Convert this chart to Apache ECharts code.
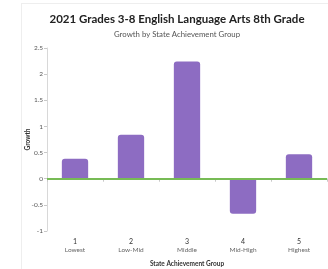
<!DOCTYPE html>
<html><head><meta charset="utf-8">
<script src="https://cdn.jsdelivr.net/npm/echarts@6/dist/echarts.min.js"></script>
<style>
html,body{margin:0;padding:0;background:#fff;}
#frame{position:absolute;left:21px;top:3px;width:320px;height:280px;border:1px solid #eeeeee;}
#c{position:absolute;left:0;top:0;width:328px;height:269px;}
</style></head>
<body>
<div id="frame"></div>
<div id="c"></div>
<script>
const groups = ['1','2','3','4','5'];
const groupNames = ['Lowest','Low-Mid','Middle','Mid-High','Highest'];
const growth = [0.38, 0.84, 2.24, -0.67, 0.47];
const yTicks = [-1, -0.5, 0, 0.5, 1, 1.5, 2, 2.5];

const chart = echarts.init(document.getElementById('c'), null, {renderer:'canvas'});
const font = 'Lato, "Open Sans", sans-serif';
chart.setOption({
  animation:false,
  title:[{
    text:'2021 Grades 3-8 English Language Arts 8th Grade',
    left:177, top:13, textAlign:'center', padding:0,
    textStyle:{fontFamily:font,fontSize:11.5,fontWeight:'bold',color:'#222'}
  },{
    text:'Growth by State Achievement Group',
    left:177, top:30, textAlign:'center', padding:0,
    textStyle:{fontFamily:font,fontSize:7.8,fontWeight:'normal',color:'#555'}
  }],
  grid:{left:47,right:1,top:48,bottom:38,outerBoundsMode:'none'},
  xAxis:{
    type:'category',
    data:groups.map((g,i)=>g+'\n'+groupNames[i]),
    name:'State Achievement Group',
    nameLocation:'middle', nameGap:29, nameMoveOverlap:false,
    nameTextStyle:{fontFamily:font,fontSize:6.5,fontWeight:'bold',color:'#333'},
    axisLine:{lineStyle:{color:'#d8d8d8',width:1}},
    axisTick:{show:true,length:3,lineStyle:{color:'#c8c8c8'}},
    axisLabel:{
      margin:6, interval:0,
      formatter:function(v){const p=v.split('\n');return '{a|'+p[0]+'}\n{b|'+p[1]+'}';},
      rich:{
        a:{fontFamily:font,fontSize:7,color:'#333',lineHeight:8.5},
        b:{fontFamily:font,fontSize:6.5,color:'#666',lineHeight:8.5}
      }
    }
  },
  yAxis:{
    type:'value', min:-1, max:2.5, interval:0.5,
    name:'Growth', nameLocation:'middle', nameGap:16, nameRotate:90, nameMoveOverlap:false,
    nameTextStyle:{fontFamily:font,fontSize:6.5,fontWeight:'bold',color:'#333'},
    axisLine:{show:true,lineStyle:{color:'#d8d8d8',width:1}},
    axisTick:{show:true,length:3,lineStyle:{color:'#c8c8c8'}},
    splitLine:{show:false},
    axisLabel:{margin:4,fontFamily:font,fontSize:6.5,color:'#555',
      formatter:function(v){return yTicks.indexOf(v)>=0?String(v):'';}}
  },
  series:[{
    type:'bar',
    barWidth:'47%',
    data:growth.map(v=>({value:v,itemStyle:{borderRadius:v>=0?[3,3,0,0]:[0,0,3,3]}})),
    itemStyle:{color:'#8d6cc2'},
    markLine:{
      symbol:'none', silent:true, label:{show:false},
      lineStyle:{color:'#77bb55',width:2,type:'solid'},
      data:[{yAxis:0}]
    }
  }]
});
</script>
</body></html>
